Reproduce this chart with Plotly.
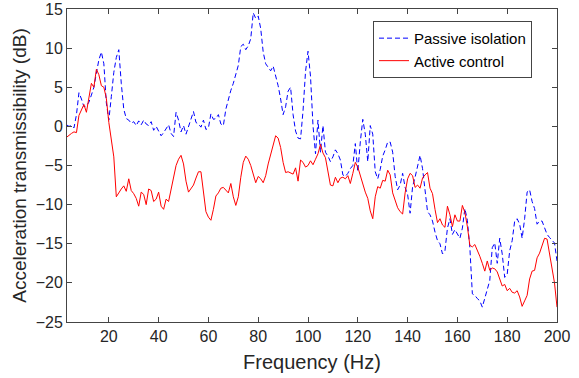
import plotly.graph_objects as go

freq = list(range(3, 201))

passive = [
    0.2, 0.0, 0.1, -0.2, 1.5, 4.3, 3.5, 2.5, 2.6, 3.1,
    4.0, 5.0, 6.8, 8.5, 9.5, 8.0, 3.0, 0.8, 3.8, 6.9,
    8.8, 9.8, 5.5, 2.2, 1.0, 0.8, 0.4, 0.6, 0.1, 0.7,
    0.2, 0.8, 0.3, 0.1, 0.6, -0.5, 0.0, -0.6, -1.2, -0.8,
    -0.3, 0.2, -0.9, -1.3, 1.8, 0.8, -0.7, 0.1, -1.0, 0.0,
    1.0, 1.9, 0.5, 0.3, -0.1, 0.8, -0.4, -0.2, 1.6, 0.9,
    1.0, 1.5, 0.3, 0.1, 2.2, 3.5, 4.6, 5.5, 6.5, 7.8,
    10.2, 10.5, 9.8, 10.3, 11.2, 14.5, 13.8, 14.1, 12.5, 9.5,
    8.0, 7.6, 7.1, 7.7, 6.6, 5.2, 3.5, 1.5, 2.5, 4.5,
    5.0, 1.5, -0.6, -1.5, -1.6, 2.0, 7.0, 9.6, 6.4, 0.1,
    -3.5, 0.8, -3.3, 0.1, -3.3, -3.8, -4.5, -3.9, -3.0, -3.5,
    -4.3, -6.2, -6.4, -6.0, -5.4, -5.0, -2.2, -5.8, -2.0, 0.9,
    -1.0, -4.5, 0.1, -1.0, -5.8, -6.7, -5.5, -3.8, -3.0, -2.0,
    -2.0, -3.3, -6.4, -8.1, -7.5, -6.0, -7.8, -8.7, -11.1, -7.7,
    -6.5, -5.0, -3.7, -5.4, -8.1, -10.9, -11.3, -12.1, -13.5, -14.6,
    -15.0, -16.3, -15.9, -13.0, -11.8, -13.8, -13.2, -13.8, -14.3, -13.0,
    -10.5, -12.0, -15.5, -21.4, -21.6, -22.0, -22.3, -23.1, -21.9, -20.6,
    -19.7, -15.5, -14.9, -17.5, -14.3, -16.3, -19.3, -18.9, -15.9, -14.6,
    -12.1, -11.8, -12.5, -14.3, -11.8, -8.4, -8.1, -9.6, -10.5, -12.5,
    -12.1, -12.1, -13.0, -13.8, -14.2, -14.6, -14.9, -17.2,
]

active = [
    -1.4, -1.1, -0.9, -0.7, -0.8, 1.4, 2.2, 2.8, 1.8, 3.5,
    5.5, 5.0, 7.3, 6.6, 5.2, 5.0, 3.6, 0.5, -2.0, -3.9,
    -9.0, -8.4, -8.0, -7.6, -8.3, -6.7, -8.2, -8.6, -9.2, -10.2,
    -8.4, -8.7, -10.0, -8.0, -8.2, -9.6, -9.3, -8.4, -10.2, -10.6,
    -9.3, -9.6, -8.0, -6.3, -5.0, -4.2, -3.7, -4.8, -7.0, -8.4,
    -7.9, -7.5, -6.6, -5.8, -5.8, -8.5, -10.9, -11.6, -12.0, -10.6,
    -8.9, -8.5, -7.9, -7.8, -8.1, -8.5, -7.3, -9.0, -10.1, -9.0,
    -6.5, -4.6, -3.8, -4.2, -5.0, -6.0, -7.2, -6.4, -6.7, -7.2,
    -6.3, -4.8, -3.5, -2.5, -1.2, -1.5, -2.7, -4.6, -5.9, -5.8,
    -6.0, -6.1, -5.3, -7.0, -4.3, -4.6, -5.2, -5.0, -4.4, -4.9,
    -4.2, -3.5, -2.3, -3.4, -4.0, -5.8, -7.5, -7.6, -6.5, -7.2,
    -6.6, -6.5, -6.7, -6.3, -7.3, -6.0, -4.6, -5.2, -6.3, -7.6,
    -8.4, -9.2, -10.8, -11.8, -9.0, -7.7, -7.9, -6.9, -7.0, -5.6,
    -6.2, -8.5, -9.6, -10.4, -10.9, -11.2, -8.5, -6.7, -6.0, -6.3,
    -7.8, -7.5, -7.9, -6.6, -6.2, -5.9, -7.9, -8.6, -10.6, -12.3,
    -11.8, -12.6, -12.9, -10.2, -11.3, -12.8, -11.3, -12.1, -12.1, -10.1,
    -11.0, -12.8, -15.2, -15.4, -15.1, -15.8, -16.6, -17.5, -18.5, -17.2,
    -18.4, -18.1, -18.2, -18.6, -19.5, -20.4, -20.2, -21.0, -20.7, -21.2,
    -21.3, -21.0, -21.8, -23.0, -22.3, -21.6, -19.5, -18.5, -18.4, -16.8,
    -16.2, -15.3, -14.3, -14.4, -16.3, -18.2, -20.0, -23.1,
]

x_ticks = [20, 40, 60, 80, 100, 120, 140, 160, 180, 200]
y_ticks = [-25, -20, -15, -10, -5, 0, 5, 10, 15]

TXT = "#262626"
FONT = "Liberation Sans, Arial, sans-serif"

fig = go.Figure()
fig.add_trace(go.Scatter(
    x=freq, y=passive, mode="lines", name="Passive isolation",
    line=dict(color="#0000ff", width=1, dash="5px,3px"),
))
fig.add_trace(go.Scatter(
    x=freq, y=active, mode="lines", name="Active control",
    line=dict(color="#ff0000", width=1),
))

axis_common = dict(
    showline=True, mirror="ticks", linecolor="#444444", linewidth=1,
    ticks="inside", ticklen=5, tickcolor="#444444", tickwidth=1,
    showgrid=False, zeroline=False, ticklabeloverflow="allow",
    automargin=False,
    tickfont=dict(family=FONT, size=16, color=TXT),
)

fig.update_layout(
    width=579, height=378,
    margin=dict(l=67, r=22, t=9, b=56),
    paper_bgcolor="white", plot_bgcolor="white",
    font=dict(family=FONT, color=TXT),
    xaxis=dict(range=[3.2, 200], tickvals=x_ticks,
               title=dict(text="Frequency (Hz)", standoff=10,
                          font=dict(family=FONT, size=20, color=TXT)),
               **axis_common),
    yaxis=dict(range=[-25, 15], tickvals=y_ticks,
               title=dict(text="Acceleration transmissibility (dB)", standoff=4,
                          font=dict(family=FONT, size=19, color=TXT)),
               **axis_common),
    legend=dict(
        x=0.949, y=0.962, xanchor="right", yanchor="top",
        bgcolor="white", bordercolor="#444444", borderwidth=1,
        font=dict(family=FONT, size=15, color="black"),
        tracegroupgap=0, itemwidth=30,
    ),
    showlegend=True,
)

fig.write_html("out.html")
